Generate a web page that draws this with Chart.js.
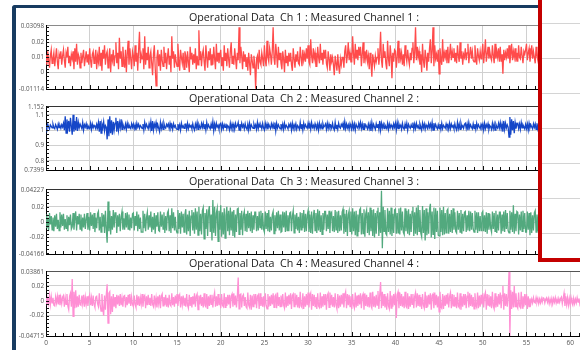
<!DOCTYPE html>
<html>
<head>
<meta charset="utf-8">
<script src="https://cdn.jsdelivr.net/npm/chart.js@4.4.1/dist/chart.umd.min.js"></script>
<style>
  html, body { margin: 0; padding: 0; background: #fff; width: 580px; height: 350px; overflow: hidden; }
  #stage { position: relative; width: 580px; height: 350px; overflow: hidden; }
  .panel { position: absolute; left: 16px; }
  .frame-top { position: absolute; left: 12px; top: 5px; width: 528px; height: 3px; background: #173b60; border-top-left-radius: 4px; z-index: 2; }
  .frame-left { position: absolute; left: 12px; top: 5px; width: 4px; height: 350px; background: #173b60; border-top-left-radius: 4px; z-index: 2; }
  .popup { position: absolute; left: 538px; top: -10px; width: 60px; height: 272px; box-sizing: border-box;
           border-left: 4px solid #c40000; border-bottom: 4px solid #c40000; background: #fff; z-index: 3; }
  .popup div { position: absolute; left: 0; right: 0; height: 1px; background: #d4d4d4; }
</style>
</head>
<body>
<div id="stage">
  <canvas id="ch1" class="panel" width="576" height="86" style="top:9px"></canvas>
  <canvas id="ch2" class="panel" width="576" height="86" style="top:90px"></canvas>
  <canvas id="ch3" class="panel" width="576" height="87" style="top:173px"></canvas>
  <canvas id="ch4" class="panel" width="576" height="95" style="top:255px"></canvas>
  <div class="frame-top"></div>
  <div class="frame-left"></div>
  <div class="popup">
    <div style="top:33px"></div><div style="top:68px"></div><div style="top:103px"></div>
    <div style="top:138px"></div><div style="top:173px"></div><div style="top:208px"></div>
    <div style="top:243px"></div>
  </div>
</div>
<script>
// Sampling interval of the recorded channels (seconds)
const SAMPLE_STEP = 0.1;
const TIME_MAX = 62.5;
const TIME_TICKS = [0, 5, 10, 15, 20, 25, 30, 35, 40, 45, 50, 55, 60];

const TITLES = [
  'Operational Data  Ch 1 : Measured Channel 1 :',
  'Operational Data  Ch 2 : Measured Channel 2 :',
  'Operational Data  Ch 3 : Measured Channel 3 :',
  'Operational Data  Ch 4 : Measured Channel 4 :'
];

// Y tick labels per channel: bottom, round values, top
const ch1Ticks = [-0.01114, 0, 0.01, 0.02, 0.03098];
const ch2Ticks = [0.7399, 0.8, 0.9, 1, 1.1, 1.152];
const ch3Ticks = [-0.04166, -0.02, 0, 0.02, 0.04227];
const ch4Ticks = [-0.04715, -0.02, 0, 0.02, 0.03861];

// Channel 1 samples, one row per second
const ch1Values = [
  0.012,0.005,0.014,0.008,0.003,0.011,0.015,0.006,0.009,0.013,
  0.004,0.010,0.016,0.007,0.002,0.012,0.009,0.014,0.005,0.011,
  0.015,0.008,0.003,0.013,0.010,0.017,0.006,0.011,0.004,0.012,
  0.009,0.014,0.002,0.016,0.007,0.019,0.005,0.012,0.010,0.003,
  0.013,0.006,0.011,0.015,0.004,0.009,0.014,0.007,0.012,0.005,
  0.016,0.008,0.003,0.012,0.014,0.006,0.010,0.015,0.002,0.011,
  0.007,0.017,0.004,0.013,0.001,0.015,0.009,0.018,0.005,0.012,
  0.014,0.003,0.010,0.016,0.000,0.012,0.008,0.015,0.004,0.011,
  0.020,0.006,0.013,0.002,0.023,0.009,0.014,0.004,0.017,0.008,
  0.003,0.015,0.000,0.012,0.021,0.005,0.016,0.009,0.002,0.014,
  0.011,0.004,0.018,0.007,0.013,0.001,0.015,0.027,0.006,0.012,
  0.009,0.016,0.002,0.024,0.005,0.013,0.008,0.017,0.003,0.011,
  0.014,0.006,-0.002,0.012,0.018,0.003,-0.009,0.010,0.015,0.004,
  0.012,0.001,0.015,0.008,0.004,0.017,0.006,0.013,0.002,0.010,
  0.016,0.005,0.011,0.000,0.024,0.009,0.014,0.003,0.012,0.007,
  0.004,0.019,0.008,0.001,0.015,0.010,0.006,0.013,0.002,0.014,
  0.011,0.003,0.014,0.007,0.000,0.017,0.009,0.013,0.005,0.012,
  0.006,0.016,0.002,0.011,0.005,0.028,0.008,0.014,0.004,0.012,
  0.015,0.007,0.001,0.018,0.010,0.003,0.014,0.008,0.016,0.005,
  0.012,0.005,0.017,0.009,0.002,0.019,0.007,0.013,0.006,0.011,
  0.015,0.004,0.010,0.001,0.018,0.008,0.013,0.004,0.016,0.009,
  0.003,0.014,0.020,0.006,0.011,0.005,0.016,0.009,0.002,0.013,
  0.008,0.030,0.006,0.017,0.011,0.002,0.014,0.007,0.012,0.004,
  0.010,0.001,0.013,0.006,-0.002,0.012,0.008,0.003,0.011,0.005,
  -0.011,0.009,0.011,0.002,0.015,0.007,0.005,0.013,0.009,0.004,
  0.018,0.008,0.004,0.021,0.010,0.007,0.016,0.012,0.005,0.014,
  0.030,0.009,0.005,0.019,0.012,0.003,0.017,0.008,0.013,0.006,
  0.002,0.014,0.009,0.000,0.015,0.006,0.011,0.004,0.013,0.007,
  0.013,0.005,0.001,0.016,0.009,0.003,0.012,0.007,0.014,0.006,
  0.005,0.017,0.010,0.004,0.015,0.008,0.012,0.007,0.016,0.009,
  0.018,0.007,0.005,0.022,0.011,0.006,0.016,0.009,0.013,0.004,
  0.004,0.017,0.010,0.006,0.019,0.008,0.013,0.005,0.015,0.009,
  0.015,0.006,0.003,0.014,0.009,0.001,0.012,0.007,0.010,0.005,
  -0.002,0.011,0.006,0.001,0.012,0.004,-0.001,0.009,0.005,0.010,
  0.010,0.003,0.014,0.018,0.006,0.011,0.020,0.008,0.013,0.007,
  0.007,0.024,0.012,0.005,0.019,0.009,0.015,0.008,0.017,0.011,
  0.017,0.004,0.012,0.020,0.006,0.014,0.009,0.015,0.007,0.011,
  0.002,0.013,0.006,-0.003,0.012,0.008,0.004,0.011,0.007,0.010,
  0.016,0.005,0.012,0.027,0.008,0.003,0.019,0.010,0.014,0.006,
  0.002,0.021,0.009,0.004,0.018,0.011,-0.004,0.013,0.007,0.015,
  0.014,0.003,0.010,0.021,0.006,0.016,0.009,0.013,0.005,0.012,
  0.004,0.018,0.011,0.007,0.015,0.009,0.005,0.013,0.008,0.016,
  0.020,0.006,0.013,0.030,0.008,0.017,0.010,0.014,0.005,0.012,
  0.000,0.019,0.008,0.003,0.015,0.010,0.001,0.013,0.007,0.016,
  0.022,0.006,0.014,0.030,0.004,0.018,0.009,0.012,0.007,0.015,
  -0.001,0.016,0.009,0.005,0.022,0.007,0.013,0.010,0.015,0.006,
  0.017,0.006,0.012,0.019,0.008,0.014,0.010,0.016,0.007,0.013,
  0.006,0.018,0.011,0.007,0.020,0.009,0.014,0.005,0.012,0.010,
  0.016,0.008,0.013,0.019,0.006,0.012,0.017,0.009,0.014,0.008,
  0.007,0.018,0.010,0.005,0.016,0.011,0.008,0.014,0.009,0.013,
  0.019,0.006,0.013,0.022,0.007,0.012,0.017,0.009,0.014,0.010,
  0.008,0.018,0.011,0.006,0.019,0.009,0.014,0.010,0.016,0.007,
  0.017,0.007,0.012,-0.001,0.015,0.008,0.013,0.010,0.016,0.009,
  0.018,0.006,0.012,0.019,0.008,0.014,0.010,0.016,0.007,0.013,
  0.007,0.018,0.010,0.009,0.017,0.011,0.006,0.014,0.012,0.015,
  0.019,0.008,0.013,0.016,0.007,0.012,0.018,0.009,0.014,0.010,
  0.006,0.017,0.011,0.008,0.015,0.010,0.013,0.007,0.016,0.009
];

// Channel 2 samples, one row per second
const ch2Values = [
  1.030,1.012,1.038,1.020,1.008,1.034,1.025,1.015,1.040,1.018,
  1.010,1.036,1.022,1.005,1.040,1.016,1.030,1.012,1.035,1.020,
  1.045,1.000,1.090,0.980,1.070,1.010,1.060,0.990,1.080,1.025,
  0.970,1.100,0.990,1.060,1.000,1.085,0.995,1.050,1.015,1.040,
  1.040,1.010,1.050,1.000,1.035,1.020,1.042,1.008,1.030,1.018,
  1.010,1.045,1.005,1.040,1.015,1.032,1.022,1.008,1.038,1.014,
  1.050,0.990,1.060,0.980,1.040,1.015,1.055,0.995,1.030,1.020,
  0.940,1.070,0.960,1.090,0.980,1.065,0.970,1.055,1.000,1.045,
  1.080,0.990,1.060,1.000,1.050,1.015,1.070,1.005,1.040,1.020,
  1.010,1.040,1.005,1.045,1.015,1.035,1.020,1.010,1.042,1.018,
  1.040,1.010,1.035,1.000,1.045,1.020,1.038,1.012,1.030,1.022,
  1.010,1.040,1.000,1.050,1.015,1.038,1.022,1.008,1.042,1.016,
  1.055,0.995,1.060,1.000,1.040,1.018,1.050,1.010,1.035,1.012,
  0.990,1.050,1.010,1.040,1.005,1.045,1.020,1.012,1.038,1.025,
  1.040,1.010,1.045,1.015,1.035,1.005,1.042,1.020,1.030,1.010,
  1.005,1.040,1.010,1.035,1.000,1.045,1.018,1.028,1.012,1.038,
  1.040,1.005,1.045,1.010,1.035,1.020,1.030,1.008,1.042,1.015,
  1.000,1.040,1.015,1.050,1.005,1.038,1.022,1.012,1.044,1.018,
  1.045,1.010,1.040,1.000,1.050,1.015,1.035,1.020,1.008,1.040,
  1.010,1.055,0.995,1.040,1.010,1.045,1.020,1.032,1.005,1.038,
  1.045,1.005,1.040,1.010,1.035,1.018,1.042,1.008,1.030,1.022,
  1.000,1.045,1.010,1.040,1.015,1.038,1.005,1.044,1.020,1.028,
  1.050,1.000,1.040,1.010,1.045,1.020,1.035,1.008,1.042,1.015,
  1.005,1.040,1.000,1.045,1.010,1.035,1.022,1.012,1.040,1.018,
  1.035,1.005,1.050,1.010,1.040,1.020,1.030,1.008,1.044,1.015,
  1.000,1.045,1.015,1.040,1.005,1.038,1.022,1.010,1.042,1.018,
  1.040,1.010,1.050,0.995,1.045,1.015,1.035,1.020,1.008,1.040,
  1.010,1.040,1.005,1.045,1.015,1.032,1.020,1.008,1.038,1.022,
  1.040,1.000,1.045,1.010,1.035,1.018,1.042,1.005,1.030,1.020,
  1.005,1.050,1.010,1.040,1.000,1.045,1.015,1.035,1.022,1.012,
  1.045,1.010,1.040,1.005,1.050,1.018,1.032,1.010,1.042,1.020,
  1.010,1.040,1.000,1.045,1.015,1.035,1.008,1.042,1.020,1.028,
  1.040,1.005,1.045,1.010,1.040,1.018,1.030,1.012,1.044,1.015,
  1.000,1.050,1.010,1.035,1.005,1.045,1.020,1.012,1.038,1.025,
  1.045,1.000,1.055,1.010,1.040,1.015,1.035,1.005,1.042,1.020,
  1.005,1.045,1.010,1.040,1.000,1.038,1.022,1.012,1.044,1.018,
  1.050,1.010,1.040,1.005,1.045,1.015,1.035,1.022,1.008,1.040,
  1.010,1.040,0.995,1.050,1.010,1.038,1.020,1.005,1.042,1.018,
  1.040,1.005,1.060,1.000,1.045,1.015,1.038,1.010,1.035,1.022,
  1.010,1.045,1.005,1.040,1.015,1.035,1.020,1.008,1.042,1.018,
  1.045,1.000,1.050,1.010,1.040,1.020,1.032,1.005,1.044,1.015,
  1.005,1.040,1.010,1.045,1.000,1.038,1.022,1.012,1.035,1.018,
  1.050,1.005,1.040,1.010,1.045,1.018,1.030,1.008,1.042,1.022,
  1.000,1.045,1.015,1.040,1.005,1.035,1.020,1.010,1.044,1.018,
  1.040,1.010,1.050,1.000,1.045,1.015,1.038,1.020,1.008,1.035,
  1.010,1.040,1.005,1.045,1.010,1.032,1.022,1.012,1.040,1.018,
  1.035,1.005,1.045,1.010,1.040,1.020,1.030,1.008,1.042,1.015,
  1.000,1.050,1.010,1.040,1.005,1.045,1.018,1.028,1.012,1.038,
  1.045,1.010,1.040,1.000,1.050,1.015,1.035,1.020,1.008,1.042,
  1.010,1.040,1.005,1.045,1.015,1.035,1.022,1.010,1.038,1.020,
  1.040,1.000,1.045,1.010,1.035,1.018,1.042,1.005,1.030,1.022,
  1.005,1.045,1.010,1.040,1.000,1.038,1.020,1.012,1.044,1.015,
  1.050,1.010,1.040,0.990,1.060,1.005,1.045,1.015,1.035,1.020,
  0.955,1.085,0.970,1.070,1.000,1.060,0.980,1.050,1.010,1.040,
  1.045,1.010,1.040,1.005,1.050,1.015,1.035,1.022,1.008,1.038,
  1.010,1.040,1.000,1.045,1.015,1.035,1.020,1.008,1.042,1.018,
  1.040,1.005,1.045,1.010,1.038,1.015,1.030,1.012,1.042,1.020
];

// Channel 3 samples, one row per second
const ch3Values = [
  0.010,-0.008,0.005,-0.011,0.012,-0.003,0.008,-0.010,0.006,-0.012,
  0.009,-0.006,0.011,-0.009,0.003,-0.011,0.013,-0.007,0.010,-0.005,
  0.011,-0.010,0.004,-0.008,0.009,-0.012,0.007,-0.004,0.010,-0.009,
  -0.006,0.012,-0.010,0.005,0.014,-0.011,0.008,-0.003,0.011,-0.009,
  0.010,-0.012,0.006,-0.007,0.011,-0.009,0.004,0.012,-0.010,0.007,
  -0.011,0.013,-0.005,0.010,-0.009,0.012,-0.013,0.006,-0.008,0.011,
  0.014,-0.011,0.007,-0.013,0.012,-0.006,0.010,-0.014,0.015,-0.009,
  -0.027,0.027,-0.012,0.015,-0.016,0.008,-0.010,0.016,-0.007,0.012,
  0.013,-0.014,0.009,-0.006,0.011,-0.012,0.007,0.014,-0.010,0.005,
  -0.010,0.012,-0.007,0.013,-0.009,0.010,-0.011,0.006,-0.008,0.011,
  0.012,-0.011,0.008,-0.005,0.014,-0.012,0.010,-0.009,0.006,-0.013,
  -0.013,0.015,-0.008,0.011,-0.012,0.006,0.013,-0.010,0.009,-0.007,
  0.014,-0.013,0.007,-0.010,0.012,-0.015,0.009,-0.006,0.013,-0.011,
  -0.012,0.014,-0.006,0.010,-0.009,0.013,-0.014,0.008,-0.011,0.012,
  0.015,-0.012,0.009,-0.014,0.018,-0.008,0.013,-0.011,0.007,-0.010,
  -0.014,0.016,-0.009,0.012,-0.015,0.014,-0.007,0.011,-0.013,0.010,
  0.017,-0.016,0.010,-0.012,0.015,-0.018,0.008,0.016,-0.011,0.013,
  -0.015,0.018,-0.010,0.014,-0.017,0.020,-0.012,0.011,-0.016,0.015,
  0.019,-0.022,0.012,-0.009,0.017,-0.018,0.014,0.021,-0.013,0.010,
  -0.024,0.029,-0.014,0.020,-0.018,0.012,0.018,-0.025,0.015,-0.010,
  0.022,-0.019,0.013,-0.016,0.018,-0.021,0.009,0.020,-0.012,0.015,
  -0.017,0.019,-0.011,0.014,-0.018,0.016,-0.020,0.010,-0.013,0.017,
  0.018,-0.016,0.012,-0.010,0.015,-0.017,0.009,0.014,-0.012,0.011,
  -0.013,0.015,-0.008,0.012,-0.012,0.014,-0.014,0.009,-0.010,0.013,
  0.013,-0.012,0.008,-0.011,0.014,-0.007,0.015,-0.010,0.012,-0.009,
  -0.013,0.014,-0.009,0.012,-0.012,0.016,-0.013,0.007,-0.011,0.010,
  0.014,-0.015,0.009,-0.012,0.013,-0.008,0.015,-0.011,0.010,-0.013,
  -0.012,0.014,-0.007,0.013,-0.013,0.015,-0.011,0.009,-0.012,0.012,
  0.013,-0.012,0.008,0.015,-0.014,0.010,-0.009,0.012,-0.011,0.007,
  -0.014,0.013,-0.010,0.012,-0.008,0.016,-0.013,0.011,-0.012,0.009,
  0.015,-0.013,0.010,-0.014,0.014,-0.015,0.008,0.016,-0.011,0.012,
  -0.014,0.017,-0.011,0.015,-0.013,0.009,-0.016,0.012,-0.010,0.014,
  0.014,-0.012,0.010,-0.009,0.015,-0.014,0.011,0.013,-0.012,0.008,
  -0.013,0.016,-0.010,0.014,-0.014,0.015,-0.012,0.009,-0.011,0.013,
  0.017,-0.015,0.011,-0.013,0.016,-0.018,0.010,0.015,-0.012,0.014,
  -0.016,0.018,-0.012,0.014,-0.017,0.015,-0.018,0.010,-0.013,0.016,
  0.018,-0.016,0.012,-0.015,0.017,-0.019,0.011,0.016,-0.014,0.013,
  -0.017,0.019,-0.012,0.016,-0.018,0.017,-0.020,0.012,-0.015,0.014,
  0.019,-0.018,0.013,-0.014,0.041,-0.034,0.020,-0.012,0.016,-0.015,
  -0.017,0.018,-0.013,0.015,-0.016,0.019,-0.018,0.011,-0.014,0.016,
  0.017,-0.015,0.012,-0.014,0.018,-0.016,0.019,-0.011,0.014,-0.013,
  -0.016,0.018,-0.012,0.015,-0.015,0.017,-0.017,0.011,-0.013,0.014,
  0.020,-0.018,0.013,-0.015,0.019,-0.017,0.022,-0.012,0.016,-0.014,
  -0.019,0.021,-0.014,0.016,-0.024,0.018,-0.017,0.013,-0.015,0.017,
  0.024,-0.020,0.014,-0.016,0.019,-0.022,0.018,-0.013,0.015,-0.017,
  -0.018,0.019,-0.013,0.016,-0.017,0.020,-0.016,0.012,-0.014,0.015,
  0.017,-0.015,0.011,-0.013,0.016,-0.014,0.018,-0.010,0.013,-0.012,
  -0.014,0.015,-0.010,0.012,-0.013,0.016,-0.015,0.011,-0.012,0.013,
  0.014,-0.013,0.009,-0.011,0.015,-0.012,0.014,-0.010,0.012,-0.009,
  -0.013,0.015,-0.010,0.013,-0.014,0.013,-0.012,0.008,-0.011,0.012,
  0.014,-0.012,0.009,-0.013,0.013,-0.015,0.012,-0.010,0.011,-0.008,
  -0.013,0.014,-0.009,0.012,-0.012,0.015,-0.014,0.010,-0.011,0.013,
  0.013,-0.015,0.010,-0.012,0.014,-0.013,0.016,-0.009,0.012,-0.011,
  -0.014,0.015,-0.010,0.013,-0.013,0.022,-0.015,0.011,-0.012,0.014,
  0.013,-0.016,0.010,-0.011,0.014,-0.012,0.015,-0.009,0.012,-0.013,
  -0.013,0.014,-0.010,0.012,-0.017,0.013,-0.014,0.009,-0.011,0.012,
  0.015,-0.013,0.010,-0.012,0.014,-0.015,0.011,-0.009,0.013,-0.011
];

// Channel 4 samples, one row per second
const ch4Values = [
  0.005,-0.006,0.003,-0.004,0.007,-0.005,0.006,-0.003,0.004,-0.006,
  -0.007,0.005,-0.003,0.006,-0.005,0.008,-0.006,0.004,-0.004,0.005,
  0.007,-0.008,0.004,-0.005,0.009,-0.007,-0.012,0.006,0.010,-0.008,
  0.029,-0.021,0.012,-0.010,0.014,-0.009,0.006,-0.008,0.008,-0.005,
  -0.006,0.007,-0.004,0.008,-0.008,0.005,-0.005,0.006,-0.007,0.004,
  0.008,-0.006,0.004,-0.007,0.007,-0.005,-0.009,0.005,0.006,-0.004,
  -0.008,0.010,-0.006,-0.014,0.009,-0.010,-0.020,0.007,-0.012,0.008,
  0.022,-0.030,0.010,0.012,-0.018,0.006,-0.015,0.009,-0.008,0.005,
  -0.010,0.008,-0.005,0.007,-0.007,0.009,-0.006,0.004,-0.008,0.006,
  0.007,-0.009,0.005,-0.006,0.008,-0.004,0.009,-0.007,0.005,-0.005,
  -0.008,0.007,-0.005,-0.009,0.008,-0.006,0.006,-0.007,0.004,-0.005,
  0.009,-0.008,0.005,0.007,-0.010,0.006,-0.006,0.008,-0.005,0.004,
  -0.007,0.009,-0.005,-0.008,0.007,-0.006,0.004,-0.009,0.006,-0.004,
  0.008,-0.010,0.006,0.009,-0.007,0.005,-0.006,0.008,-0.008,0.004,
  -0.009,0.008,-0.005,-0.007,0.010,-0.006,0.005,-0.008,0.007,-0.004,
  0.009,-0.007,0.005,0.008,-0.009,0.006,-0.005,0.007,-0.006,0.004,
  -0.008,0.009,-0.006,-0.010,0.008,-0.007,0.005,-0.009,0.006,-0.005,
  0.010,-0.008,0.006,0.009,-0.012,0.007,-0.005,0.008,-0.007,0.005,
  -0.009,0.010,-0.006,-0.008,0.009,-0.011,0.006,-0.007,0.008,-0.005,
  0.008,-0.009,0.005,0.011,-0.008,0.006,-0.007,0.009,-0.006,0.004,
  -0.010,0.009,-0.006,-0.008,0.010,-0.009,0.005,-0.007,0.008,-0.005,
  0.008,-0.010,0.006,0.009,-0.008,0.010,-0.006,0.007,-0.009,0.005,
  0.031,-0.011,0.008,0.009,-0.009,0.006,0.008,-0.007,0.005,-0.008,
  -0.010,0.011,-0.006,-0.009,0.008,-0.012,0.007,-0.008,0.009,-0.005,
  0.009,-0.010,0.006,0.008,-0.011,0.010,-0.007,0.005,-0.008,0.006,
  -0.009,0.010,-0.006,-0.011,0.009,-0.008,0.006,-0.007,0.008,-0.005,
  0.010,-0.009,0.006,0.008,-0.010,0.011,-0.007,0.005,-0.008,0.007,
  -0.008,0.009,-0.006,-0.010,0.011,-0.009,0.006,-0.007,0.008,-0.005,
  0.010,-0.011,0.007,0.009,-0.008,0.010,-0.006,0.008,-0.009,0.005,
  -0.010,0.012,-0.007,-0.009,0.010,-0.011,0.006,-0.008,0.009,-0.006,
  0.011,-0.009,0.006,0.010,-0.012,0.009,-0.007,0.008,-0.008,0.005,
  -0.011,0.010,-0.007,-0.009,0.011,-0.010,0.006,-0.008,0.009,-0.006,
  0.009,-0.012,0.007,0.010,-0.009,0.011,-0.006,0.008,-0.008,0.005,
  -0.009,0.010,-0.006,-0.011,0.009,-0.010,0.007,-0.008,0.008,-0.005,
  0.010,-0.009,0.007,0.012,-0.010,0.009,-0.006,0.008,-0.008,0.006,
  -0.011,0.009,-0.006,-0.010,0.011,-0.009,0.007,-0.007,0.008,-0.005,
  0.010,-0.010,0.006,0.009,-0.012,0.010,-0.007,0.008,-0.008,0.005,
  -0.009,0.011,-0.007,-0.010,0.012,-0.008,0.006,-0.009,0.008,-0.006,
  0.013,-0.011,0.008,0.025,-0.010,0.012,-0.007,0.009,-0.009,0.006,
  -0.012,0.010,-0.007,-0.011,0.013,-0.010,0.007,-0.008,0.009,-0.006,
  0.011,-0.023,0.008,0.012,-0.010,0.011,-0.007,0.009,-0.008,0.006,
  -0.010,0.012,-0.007,-0.009,0.010,-0.011,0.006,-0.008,0.009,-0.005,
  0.009,-0.010,0.006,0.011,-0.009,0.010,-0.007,0.008,-0.008,0.005,
  -0.011,0.009,-0.006,-0.010,0.012,-0.009,0.007,-0.008,0.008,-0.005,
  0.010,-0.012,0.007,0.009,-0.010,0.011,-0.006,0.008,-0.009,0.006,
  -0.015,0.012,-0.008,-0.010,0.009,-0.011,0.007,-0.007,0.008,-0.005,
  0.010,-0.009,0.006,0.011,-0.010,0.009,-0.007,0.008,-0.008,0.005,
  -0.010,0.011,-0.007,-0.009,0.010,-0.012,0.006,-0.008,0.009,-0.006,
  0.009,-0.010,0.006,0.012,-0.009,0.010,-0.007,0.008,-0.008,0.005,
  -0.011,0.010,-0.006,-0.009,0.011,-0.010,0.007,-0.008,0.008,-0.005,
  0.010,-0.009,0.007,0.011,-0.012,0.009,-0.006,0.008,-0.008,0.006,
  -0.010,0.012,-0.007,-0.011,0.010,-0.009,0.006,-0.008,0.009,-0.005,
  0.011,-0.010,0.007,0.020,-0.012,0.010,-0.007,0.009,-0.008,0.006,
  0.039,-0.047,0.014,-0.011,0.012,-0.009,0.020,-0.008,0.010,-0.007,
  -0.010,0.011,-0.007,-0.009,0.012,-0.010,0.006,-0.008,0.009,-0.006,
  0.009,-0.011,0.006,-0.008,0.003,-0.004,0.002,-0.003,0.004,-0.002,
  -0.003,0.004,-0.002,0.003,-0.004,0.002,-0.003,0.003,-0.002,0.004,
  0.003,-0.003,0.002,0.004,-0.002,0.003,-0.004,0.002,-0.003,0.003,
  -0.004,0.003,-0.002,0.004,-0.003,0.002,-0.004,0.003,-0.002,0.003,
  0.005,-0.004,0.003,0.010,-0.007,0.006,-0.005,0.004,-0.006,0.003,
  -0.005,0.004,-0.003,-0.006,0.003,-0.004,0.002,-0.003,0.004,-0.002,
  0.003,-0.004,0.002,-0.003,0.004,-0.002,0.003,-0.003,0.002,-0.004,
  -0.003,0.002,-0.004,0.003,-0.002
];

const FONT = "'Open Sans', 'DejaVu Sans', sans-serif";

// Small inward tick marks along the left and bottom axes
const axisMarks = {
  id: 'axisMarks',
  afterDraw(chart, args, opts) {
    const { ctx, chartArea: a, scales: { x, y } } = chart;
    ctx.save();
    ctx.strokeStyle = '#111';
    ctx.lineWidth = 1;
    ctx.beginPath();
    for (let t = 0; t <= Math.floor(x.max); t++) {
      const px = Math.round(x.getPixelForValue(t)) + 0.5;
      if (px > a.right) break;
      ctx.moveTo(px, a.bottom);
      ctx.lineTo(px, a.bottom - (t % 5 === 0 ? 4 : 3));
    }
    const s = opts.minorStep;
    for (let k = Math.ceil(y.min / s); k * s <= y.max + 1e-9; k++) {
      const py = Math.round(y.getPixelForValue(k * s)) + 0.5;
      ctx.moveTo(a.left, py);
      ctx.lineTo(a.left + 3, py);
    }
    ctx.stroke();
    ctx.restore();
  }
};

function drawChannel(id, title, values, yTicks, minorStep, color, showTime, topEdge) {
  const points = values.map((v, i) => ({ x: i * SAMPLE_STEP, y: v }));
  const last = yTicks.length - 1;
  return new Chart(document.getElementById(id), {
    type: 'line',
    data: {
      datasets: [{
        data: points,
        borderColor: color,
        borderWidth: 1.3,
        pointRadius: 0,
        tension: 0,
        fill: false
      }]
    },
    plugins: [axisMarks],
    options: {
      responsive: false,
      animation: false,
      events: [],
      parsing: false,
      normalized: true,
      layout: { padding: 0 },
      plugins: {
        legend: { display: false },
        tooltip: { enabled: false },
        title: {
          display: true,
          text: title,
          color: '#1a1a1a',
          font: { family: FONT, size: 10.7, weight: 'normal' },
          padding: { top: 3, bottom: 1 }
        },
        axisMarks: { minorStep }
      },
      scales: {
        x: {
          type: 'linear',
          min: 0,
          max: TIME_MAX,
          afterBuildTicks: s => { s.ticks = TIME_TICKS.map(v => ({ value: v })); },
          afterFit: s => { s.height = showTime ? 14 : 6; },
          grid: { color: '#d0d0d0', drawTicks: false },
          border: { color: '#000', width: 1 },
          ticks: {
            display: showTime,
            autoSkip: false,
            maxRotation: 0,
            padding: 3,
            color: '#555',
            font: { family: FONT, size: 6.5 }
          }
        },
        y: {
          type: 'linear',
          min: yTicks[0],
          max: yTicks[last],
          afterBuildTicks: s => { s.ticks = yTicks.map(v => ({ value: v })); },
          afterFit: s => { s.width = 30; },
          grid: {
            drawTicks: false,
            color: c => c.index === last ? topEdge : (c.index === 0 ? 'rgba(0,0,0,0)' : '#d0d0d0')
          },
          border: { color: '#000', width: 1 },
          ticks: {
            autoSkip: false,
            padding: 2,
            color: '#555',
            font: { family: FONT, size: 6.3 },
            callback: v => String(v)
          }
        }
      }
    }
  });
}

drawChannel('ch1', TITLES[0], ch1Values, ch1Ticks, 0.0025, '#ff4b4b', false, '#8a8a8a');
drawChannel('ch2', TITLES[1], ch2Values, ch2Ticks, 0.025, '#1446c8', false, '#333');
drawChannel('ch3', TITLES[2], ch3Values, ch3Ticks, 0.005, '#52a97e', false, '#333');
drawChannel('ch4', TITLES[3], ch4Values, ch4Ticks, 0.005, '#ff8fd4', true, '#555');
</script>
</body>
</html>
